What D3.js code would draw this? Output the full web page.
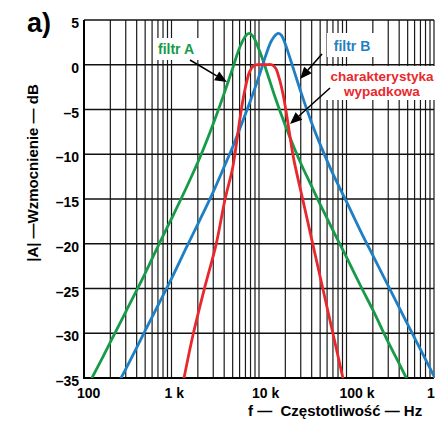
<!DOCTYPE html>
<html><head><meta charset="utf-8">
<script src="https://cdn.jsdelivr.net/npm/d3@7"></script>
<style>
html,body{margin:0;padding:0;background:#fff;}
svg{display:block;font-family:"Liberation Sans",Arial,sans-serif;font-weight:bold;}
text{white-space:pre;}
</style></head>
<body>
<svg id="c" width="439" height="421"></svg>
<script>
// ---- data ----
const xTickValues = [100, 1000, 10000, 100000, 1000000];
const xTickLabels = ["100", "1 k", "10 k", "100 k", "1 M"];
const yTickValues = [5, 0, -5, -10, -15, -20, -25, -30, -35];
const yTickLabels = ["5", "0", "–5", "–10", "–15", "–20", "–25", "–30", "–35"];

const filtrAFreq = [110,150,200,300,500,700,1000,1500,2000,2500,3000,4000,5000,6000,7000,7700,8500,10000,12000,15000,20000,25000,30000,40000,50000,70000,100000,150000,200000,300000,400000,500000,550000];
const filtrADb   = [-35.9,-33.4,-31.0,-27.6,-23.3,-20.3,-17.2,-13.6,-10.9,-8.6,-6.6,-3.2,-0.4,1.9,3.2,3.5,3.2,1.7,-0.5,-3.4,-6.8,-9.2,-11.0,-13.6,-15.6,-18.5,-21.5,-25.0,-27.4,-31.0,-33.4,-35.3,-36.1];

const filtrBFreq = [230,300,400,500,700,1000,1500,2000,3000,4000,5000,6000,8000,10000,12000,14000,16500,18000,20000,25000,30000,40000,50000,70000,100000,150000,200000,300000,500000,700000,1000000,1100000];
const filtrBDb   = [-36.1,-34.0,-31.6,-29.7,-26.9,-23.9,-20.3,-17.8,-14.2,-11.4,-9.2,-7.2,-4.0,-1.3,1.1,2.75,3.5,3.3,2.3,-0.6,-3.0,-6.5,-8.9,-12.2,-15.3,-18.9,-21.3,-24.7,-29.0,-31.8,-34.8,-35.6];

const wynikFreq = [1300,1390,1760,2350,3230,4080,5000,5600,6100,6900,7800,8700,9500,12000,14000,15500,17000,19000,21000,23000,25000,31700,41300,54200,70600,91000,97000];
const wynikDb   = [-36.5,-35.0,-30.2,-25.2,-20.1,-15.1,-11.5,-8.4,-5.8,-2.8,-0.8,-0.1,0,0,0,-0.4,-1.5,-3.5,-6.0,-8.5,-10.6,-15.1,-20.1,-25.2,-30.2,-35.0,-36.3];

const seriesNames = ["filtr A", "filtr B", "charakterystyka wypadkowa"];
const seriesColors = ["#169b48", "#1f7fc4", "#e8282d"];

// ---- layout ----
const svg = d3.select("#c");
const L = 84, R = 434, T = 20, B = 378;
const x = d3.scaleLog().domain([100, 1000000]).range([L, R]);
const y = d3.scaleLinear().domain([-35, 5]).range([B, T]);

svg.append("defs").append("clipPath").attr("id","clip")
  .append("rect").attr("x",L).attr("y",T).attr("width",R-L).attr("height",B-T);

// grid
const vgrid = [];
for (let d = 100; d < 1000000; d *= 10) for (let k = 1; k <= 9; k++) vgrid.push(d*k);
vgrid.push(1000000);
const g = svg.append("g");
g.selectAll("line.v").data(vgrid).join("line")
  .attr("x1", d => x(d)).attr("x2", d => x(d)).attr("y1", T).attr("y2", B)
  .attr("stroke", "#1a1a1a").attr("stroke-width", 1.2);
g.selectAll("line.h").data(yTickValues).join("line")
  .attr("x1", L).attr("x2", R).attr("y1", d => y(d)).attr("y2", d => y(d))
  .attr("stroke", "#111").attr("stroke-width", 1.3);

// axes frame
svg.append("line").attr("x1",L).attr("x2",L).attr("y1",T).attr("y2",B+1).attr("stroke","#000").attr("stroke-width",2);
svg.append("line").attr("x1",L-1).attr("x2",R).attr("y1",B).attr("y2",B).attr("stroke","#000").attr("stroke-width",2);

// white boxes behind annotation texts
svg.append("rect").attr("x",153).attr("y",38).attr("width",47).attr("height",22).attr("fill","#fff");
svg.append("rect").attr("x",327).attr("y",33).attr("width",48).attr("height",24).attr("fill","#fff");
svg.append("rect").attr("x",322).attr("y",66).attr("width",117).attr("height",34).attr("fill","#fff");

// curves
const line = d3.line().x(d => x(d[0])).y(d => y(d[1])).curve(d3.curveCatmullRom.alpha(0.5));
const series = [
  d3.zip(filtrAFreq, filtrADb),
  d3.zip(filtrBFreq, filtrBDb),
  d3.zip(wynikFreq, wynikDb)
];
const cg = svg.append("g").attr("clip-path","url(#clip)");
[0,1,2].forEach(i => {
  cg.append("path").attr("d", line(series[i])).attr("fill","none")
    .attr("stroke", seriesColors[i]).attr("stroke-width", 2.8).attr("stroke-linejoin","round");
});

// tick labels
svg.selectAll("text.xt").data(xTickValues).join("text")
  .attr("x", d => x(d) - 7).attr("y", 398).attr("font-size", 14)
  .attr("text-anchor","start").text((d,i) => xTickLabels[i]);
svg.selectAll("text.yt").data(yTickValues).join("text")
  .attr("x", 79).attr("y", d => y(d) + 8).attr("font-size", 14)
  .attr("text-anchor","end").text((d,i) => yTickLabels[i]);

// axis titles
svg.append("text").attr("x", 248).attr("y", 416).attr("font-size", 15).text("f —  Częstotliwość — Hz");
svg.append("text").attr("transform","translate(38,173) rotate(-90)").attr("text-anchor","middle")
  .attr("font-size", 15).text("|A| —Wzmocnienie — dB");
svg.append("text").attr("x", 27).attr("y", 32).attr("font-size", 27).text("a)");

// annotations
svg.append("text").attr("x",176).attr("y",54).attr("text-anchor","middle").attr("font-size",14)
  .attr("fill",seriesColors[0]).text(seriesNames[0]);
svg.append("text").attr("x",352).attr("y",51).attr("text-anchor","middle").attr("font-size",14)
  .attr("fill",seriesColors[1]).text(seriesNames[1]);
svg.append("text").attr("x",382).attr("y",81).attr("text-anchor","middle").attr("font-size",13.5)
  .attr("fill",seriesColors[2]).text("charakterystyka");
svg.append("text").attr("x",382).attr("y",96).attr("text-anchor","middle").attr("font-size",13.5)
  .attr("fill",seriesColors[2]).text("wypadkowa");

function arrow(x1,y1,x2,y2){
  const a = Math.atan2(y2-y1, x2-x1), len = 12, w = 5;
  const bx = x2 - len*Math.cos(a), by = y2 - len*Math.sin(a);
  svg.append("line").attr("x1",x1).attr("y1",y1).attr("x2",bx).attr("y2",by)
    .attr("stroke","#000").attr("stroke-width",1.6);
  const p = [[x2,y2],[bx - w*Math.sin(a), by + w*Math.cos(a)],[bx + w*Math.sin(a), by - w*Math.cos(a)]];
  svg.append("path").attr("d","M"+p.map(q=>q.join(",")).join("L")+"Z").attr("fill","#000");
}
arrow(190,60,227,82);
arrow(322,54,300,79);
arrow(330,88,290,124);
</script>
</body></html>
